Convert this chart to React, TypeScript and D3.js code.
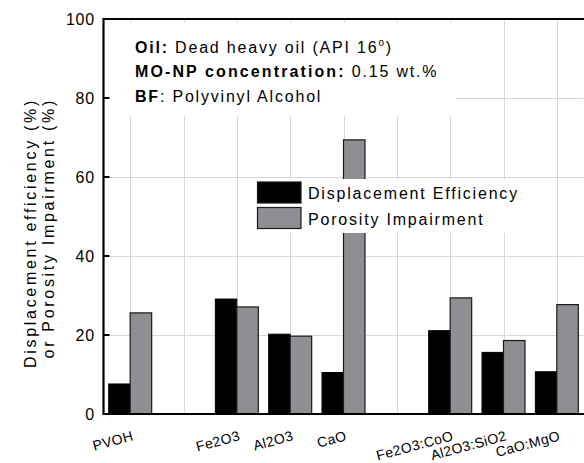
import React from "react";
import * as d3 from "d3";

// Slot labels along the x axis; empty strings are spacer slots between groups
const slots = ["PVOH", "", "Fe2O3", "Al2O3", "CaO", "", "Fe2O3:CoO", "Al2O3:SiO2", "CaO:MgO"];
const categories = ["PVOH", "Fe2O3", "Al2O3", "CaO", "Fe2O3:CoO", "Al2O3:SiO2", "CaO:MgO"];
const displacementEfficiency = [7.6, 29.1, 20.2, 10.5, 21.1, 15.6, 10.7];
const porosityImpairment = [25.6, 27.1, 19.7, 69.4, 29.4, 18.6, 27.7];
const yTicks = [0, 20, 40, 60, 80, 100];
const gridTicks = [20, 40, 60, 80];
const seriesNames = ["Displacement Efficiency", "Porosity Impairment"];

const W = 584;
const H = 463;
const FONT = "'Liberation Sans', Arial, Helvetica, sans-serif";
const BLACK = "#000000";
const GRAY = "#8e8f93";
const GRID = "#d9d9d9";

export default function App() {
  const x = d3.scaleLinear().domain([-0.5, slots.length - 0.5]).range([103.5, 583.5]);
  const y = d3.scaleLinear().domain([0, 100]).range([414, 19]);
  const slotW = x(1) - x(0);
  const barW = slotW * 0.403;
  const slotOf = (c: string) => slots.indexOf(c);

  const left = x.range()[0];
  const right = x.range()[1];

  return (
    <svg
      width={W}
      height={H}
      viewBox={`0 0 ${W} ${H}`}
      style={{ position: "absolute", left: 0, top: 0, background: "#fff" }}
      fontFamily={FONT}
    >
      <rect x={0} y={0} width={W} height={H} fill="#fff" />

      {/* grid */}
      <g stroke={GRID} strokeWidth={1}>
        {gridTicks.map((t) => (
          <line key={"h" + t} x1={left} x2={right} y1={Math.round(y(t)) + 0.5} y2={Math.round(y(t)) + 0.5} />
        ))}
        {slots.map((_, i) => (
          <line key={"v" + i} x1={Math.round(x(i)) + 0.5} x2={Math.round(x(i)) + 0.5} y1={y(100)} y2={y(0)} />
        ))}
      </g>

      {/* annotation panel */}
      <rect x={105} y={23} width={351} height={93} fill="#fff" />
      <g fontSize={16} fill="#000" letterSpacing={1.8}>
        <text x={135} y={53.3}>
          <tspan fontWeight="bold">Oil:</tspan> Dead heavy oil (API 16
          <tspan fontSize={10} dy={-7}>o</tspan>
          <tspan dy={7}>)</tspan>
        </text>
        <text x={135} y={76.5}>
          <tspan fontWeight="bold" letterSpacing={2.1}>MO-NP concentration:</tspan> 0.15 wt.%
        </text>
        <text x={135} y={101.7}>
          <tspan fontWeight="bold">BF</tspan>: Polyvinyl Alcohol
        </text>
      </g>

      {/* bars */}
      <g>
        {categories.map((c, i) => {
          const cx = x(slotOf(c));
          return (
            <g key={c}>
              <rect
                x={cx - barW}
                y={y(displacementEfficiency[i])}
                width={barW}
                height={y(0) - y(displacementEfficiency[i])}
                fill={BLACK}
                stroke="#000"
                strokeWidth={1}
              />
              <rect
                x={cx}
                y={y(porosityImpairment[i])}
                width={barW}
                height={y(0) - y(porosityImpairment[i])}
                fill={GRAY}
                stroke="#1a1a1a"
                strokeWidth={1.2}
              />
            </g>
          );
        })}
      </g>

      {/* legend */}
      <rect x={255} y={179} width={270} height={54} fill="#fff" />
      {seriesNames.map((s, i) => (
        <g key={s}>
          <rect
            x={257.5}
            y={182 + i * 25.5}
            width={43.5}
            height={21}
            fill={i === 0 ? BLACK : GRAY}
            stroke="#1a1a1a"
            strokeWidth={1.2}
          />
          <text x={308} y={199 + i * 25.5} fontSize={16} letterSpacing={1.8} fill="#000">
            {s}
          </text>
        </g>
      ))}

      {/* frame */}
      <g stroke="#000" strokeWidth={2.2} fill="none">
        <line x1={left} x2={right + 2} y1={y(100)} y2={y(100)} />
        <line x1={left} x2={right + 2} y1={y(0)} y2={y(0)} />
        <line x1={left} x2={left} y1={y(100) - 1} y2={y(0) + 1} />
      </g>

      {/* y ticks */}
      <g>
        {yTicks.map((t) => (
          <g key={t}>
            <line x1={left} x2={left + 6} y1={y(t)} y2={y(t)} stroke="#000" strokeWidth={2} />
            <text
              x={95}
              y={y(t)}
              dy="0.36em"
              textAnchor="end"
              fontSize={16}
              letterSpacing={0.8}
              fill="#000"
            >
              {t}
            </text>
          </g>
        ))}
      </g>

      {/* x labels */}
      <g>
        {categories.map((c) => {
          const cx = x(slotOf(c));
          return (
            <text
              key={c}
              transform={`translate(${cx + 4},${440}) rotate(-15)`}
              textAnchor="end"
              fontSize={14}
              letterSpacing={0.4}
              fill="#000"
            >
              {c}
            </text>
          );
        })}
      </g>

      {/* y title */}
      <g fontSize={16} letterSpacing={2.7} fill="#000" textAnchor="end">
        <text transform="translate(36,98) rotate(-90)">Displacement efficiency (%)</text>
        <text transform="translate(54,98) rotate(-90)">or Porosity Impairment (%)</text>
      </g>
    </svg>
  );
}
